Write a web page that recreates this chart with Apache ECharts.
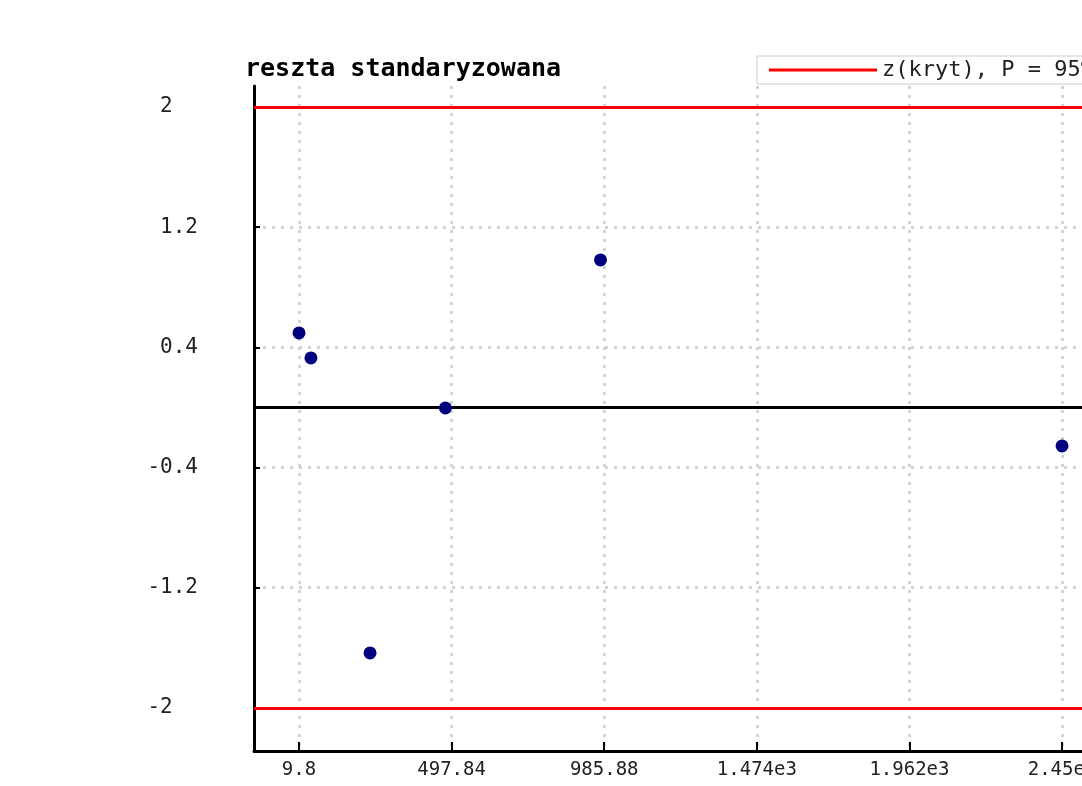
<!DOCTYPE html>
<html>
<head>
<meta charset="utf-8">
<script src="https://cdn.jsdelivr.net/npm/echarts@6/dist/echarts.min.js"></script>
<style>
  html, body { margin: 0; padding: 0; background: #fff; }
  #chart { width: 1082px; height: 786px; }
</style>
</head>
<body>
<div id="chart"></div>
<script>
const xValues = [9.8, 48, 237, 478, 974, 2450];
const residuals = [0.496, 0.33, -1.634, -0.003, 0.982, -0.256];

const xTickValues = [9.8, 497.84, 985.88, 1474, 1962, 2450];
const xTickLabels = ["9.8", "497.84", "985.88", "1.474e3", "1.962e3", "2.45e3"];
const yTickValues = [-2, -1.2, -0.4, 0.4, 1.2, 2];
const yTickLabels = ["-2  ", "-1.2", "-0.4", "0.4", "1.2", "2  "];

const zCrit = 2;
const FONT = "DejaVu Sans Mono";

const points = xValues.map((x, i) => [x, residuals[i]]);

const chart = echarts.init(document.getElementById("chart"));

chart.setOption({
    animation: false,
    title: {
        text: "reszta standaryzowana",
        left: 245,
        top: 57,
        padding: 0,
        textStyle: { fontFamily: FONT, fontSize: 25, fontWeight: "bold", color: "#000" }
    },
    legend: {
        left: 757,
        top: 56,
        padding: [3, 12],
        itemGap: 10,
        itemWidth: 108,
        itemHeight: 3,
        borderColor: "#cccccc",
        borderWidth: 1,
        backgroundColor: "#fff",
        icon: "rect",
        textStyle: { fontFamily: FONT, fontSize: 22, color: "#222" },
        data: ["z(kryt), P = 95%"]
    },
    grid: { left: 254, top: 86, right: 0, bottom: 35, outerBoundsMode: "none", containLabel: false },
    xAxis: {
        type: "value",
        min: -134.1,
        max: 2513.8,
        axisLine: { onZero: false, lineStyle: { color: "#000", width: 3 } },
        axisTick: { inside: true, length: 9, customValues: xTickValues, lineStyle: { color: "#000", width: 2 } },
        axisLabel: {
            customValues: xTickValues,
            fontFamily: FONT, fontSize: 19, color: "#222", margin: 10,
            formatter: v => xTickLabels[xTickValues.indexOf(v)]
        },
        splitLine: { show: true, lineStyle: { color: "#d4d4d4", width: 3, type: [3, 6] } }
    },
    yAxis: {
        type: "value",
        min: -2.287,
        max: 2.14,
        axisLine: { onZero: false, lineStyle: { color: "#000", width: 3 } },
        axisTick: { inside: true, length: 6, customValues: yTickValues, lineStyle: { color: "#000", width: 2 } },
        axisLabel: {
            customValues: yTickValues,
            fontFamily: FONT, fontSize: 21, color: "#222", margin: 56,
            formatter: v => yTickLabels[yTickValues.indexOf(v)]
        },
        splitLine: { show: true, lineStyle: { color: "#d4d4d4", width: 3, type: [3, 6] } }
    },
    series: [
        {
            name: "z(kryt), P = 95%",
            type: "line",
            color: "#ff0000",
            symbol: "none",
            data: [],
            markLine: {
                silent: true,
                symbol: "none",
                label: { show: false },
                lineStyle: { color: "#ff0000", width: 3, type: "solid" },
                data: [{ yAxis: zCrit }, { yAxis: -zCrit }]
            }
        },
        {
            name: "zero",
            type: "line",
            symbol: "none",
            data: [],
            markLine: {
                silent: true,
                symbol: "none",
                label: { show: false },
                lineStyle: { color: "#000", width: 3, type: "solid" },
                data: [{ yAxis: 0 }]
            }
        },
        {
            name: "reszta",
            type: "scatter",
            symbol: "circle",
            symbolSize: 13,
            itemStyle: { color: "#00007f", opacity: 1 },
            data: points,
            z: 5
        }
    ]
});
</script>
</body>
</html>
